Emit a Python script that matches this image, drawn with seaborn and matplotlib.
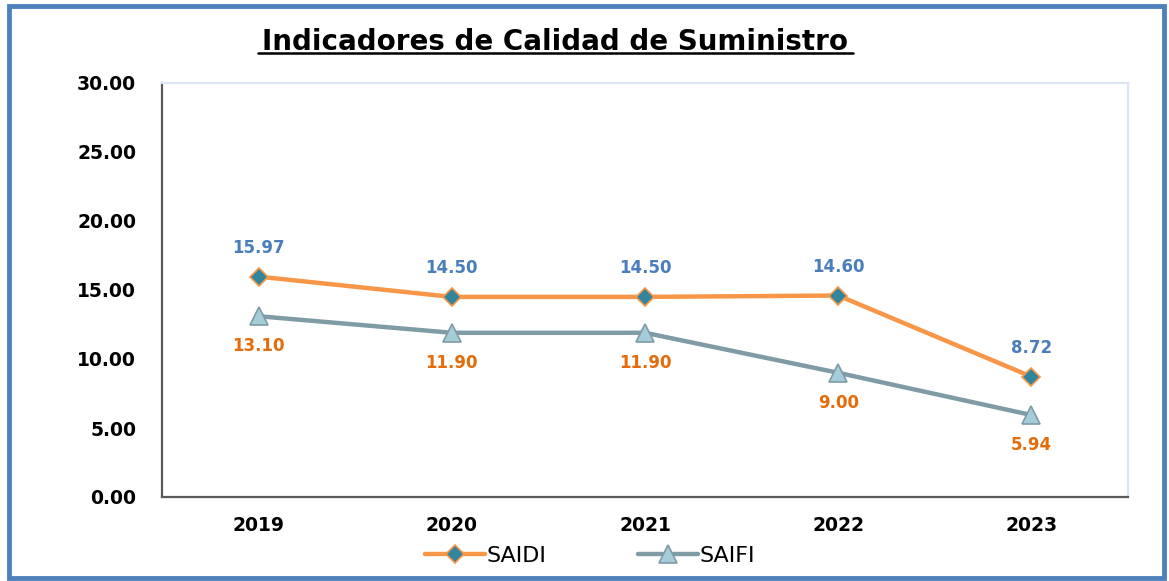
import pandas as pd
import seaborn as sb
import matplotlib.pyplot as plt
from matplotlib.patches import Rectangle

years = ["2019", "2020", "2021", "2022", "2023"]
saidi = [15.97, 14.50, 14.50, 14.60, 8.72]
saifi = [13.10, 11.90, 11.90, 9.00, 5.94]
yticks = [0, 5, 10, 15, 20, 25, 30]

df = pd.DataFrame({"year": years, "SAIDI": saidi, "SAIFI": saifi})

sb.set_style("white")
plt.rcParams['font.family'] = ['DejaVu Sans']
plt.rcParams['text.color'] = 'black'
plt.rcParams['xtick.color'] = 'black'
plt.rcParams['ytick.color'] = 'black'

fig = plt.figure(figsize=(11.69, 5.81), dpi=100)
ax = fig.add_axes([162 / 1169, 1 - 497 / 581, (1128 - 162) / 1169, (497 - 83) / 581])

sb.lineplot(data=df, x="year", y="SAIDI", ax=ax, color="#f79646", lw=3.2,
            marker="D", markersize=9, markerfacecolor="#31859c",
            markeredgecolor="#f79646", markeredgewidth=1.2, label="SAIDI")
sb.lineplot(data=df, x="year", y="SAIFI", ax=ax, color="#7f9ba6", lw=3.2,
            marker="^", markersize=13, markerfacecolor="#a5cdd9",
            markeredgecolor="#7f9ba6", markeredgewidth=1.2, label="SAIFI")

for i, v in enumerate(saidi):
    ax.annotate("%.2f" % v, (i, v), xytext=(0, 14), textcoords="offset points",
                ha="center", va="bottom", color="#4a7ebb", fontsize=12, fontweight="bold")
for i, v in enumerate(saifi):
    ax.annotate("%.2f" % v, (i, v), xytext=(0, -15), textcoords="offset points",
                ha="center", va="top", color="#e46c0a", fontsize=12, fontweight="bold")

ax.set_xlim(-0.5, 4.5)
ax.set_ylim(0, 30)
ax.set_yticks(yticks)
ax.set_yticklabels(["%.2f" % t for t in yticks])
ax.tick_params(axis="both", length=0, labelsize=13.5, pad=14)
for lab in ax.get_xticklabels() + ax.get_yticklabels():
    lab.set_fontweight("bold")
ax.tick_params(axis="y", pad=18.5)
ax.set_xlabel("")
ax.set_ylabel("")

for s in ["left", "bottom"]:
    ax.spines[s].set_color("#5a5a5a")
    ax.spines[s].set_linewidth(1.6)
for s in ["top", "right"]:
    ax.spines[s].set_color("#dce6f2")
    ax.spines[s].set_linewidth(1.6)

ax.legend(loc="center", bbox_to_anchor=(590 / 1169, 25 / 581), bbox_transform=fig.transFigure,
          ncol=2, frameon=False, fontsize=16, handlelength=2.7, columnspacing=4.1,
          handletextpad=0.1)

fig.text(555.5 / 1169, 1 - 50 / 581, "Indicadores de Calidad de Suministro", ha="center",
         va="baseline", fontsize=20, fontweight="bold")
fig.add_artist(plt.Line2D([258 / 1169, 853 / 1169], [1 - 53 / 581, 1 - 53 / 581],
                          color="black", lw=1.8))

fig.add_artist(Rectangle((9 / 1169, 3 / 581), 1155 / 1169, 572 / 581, fill=False,
                         edgecolor="#4f81bd", lw=3.5, transform=fig.transFigure))

plt.savefig("out.png", dpi=100)
plt.close()
